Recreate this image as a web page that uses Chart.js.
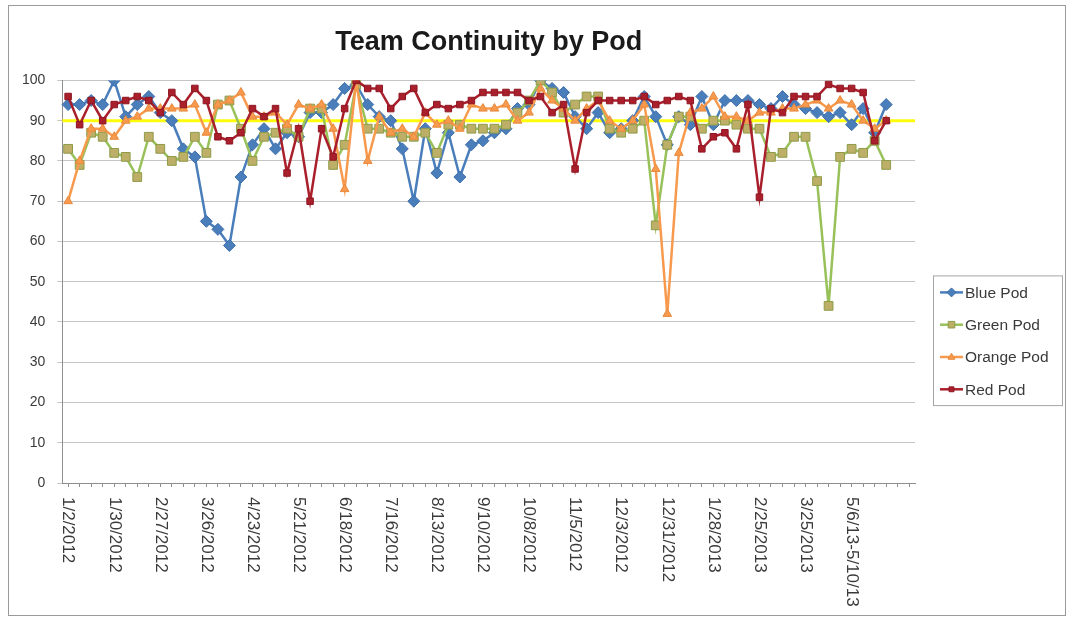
<!DOCTYPE html>
<html>
<head>
<meta charset="utf-8">
<title>Team Continuity by Pod</title>
<script src="https://cdn.jsdelivr.net/npm/chart.js@4.4.0/dist/chart.umd.min.js"></script>
<style>
  html, body { margin: 0; padding: 0; background: #fff; }
  #wrap { position: relative; width: 1073px; height: 619px; }
  #chart { position: absolute; left: 0; top: 0; }
  #frame {
    position: absolute; left: 8px; top: 5px; width: 1058px; height: 611px;
    border: 1px solid #9a9a9a; box-sizing: border-box; pointer-events: none;
  }
</style>
</head>
<body>
<div id="wrap">
  <canvas id="chart" width="1073" height="619"></canvas>
  <div id="frame"></div>
</div>
<script>
// Weekly categories; only every 4th label is printed on the axis.
const weeks = [
  '1/2/2012', '1/9/2012', '1/16/2012', '1/23/2012', '1/30/2012', '2/6/2012', '2/13/2012', '2/20/2012',
  '2/27/2012', '3/5/2012', '3/12/2012', '3/19/2012', '3/26/2012', '4/2/2012', '4/9/2012', '4/16/2012',
  '4/23/2012', '4/30/2012', '5/7/2012', '5/14/2012', '5/21/2012', '5/28/2012', '6/4/2012', '6/11/2012',
  '6/18/2012', '6/25/2012', '7/2/2012', '7/9/2012', '7/16/2012', '7/23/2012', '7/30/2012', '8/6/2012',
  '8/13/2012', '8/20/2012', '8/27/2012', '9/3/2012', '9/10/2012', '9/17/2012', '9/24/2012', '10/1/2012',
  '10/8/2012', '10/15/2012', '10/22/2012', '10/29/2012', '11/5/2012', '11/12/2012', '11/19/2012', '11/26/2012',
  '12/3/2012', '12/10/2012', '12/17/2012', '12/24/2012', '12/31/2012', '1/7/2013', '1/14/2013', '1/21/2013',
  '1/28/2013', '2/4/2013', '2/11/2013', '2/18/2013', '2/25/2013', '3/4/2013', '3/11/2013', '3/18/2013',
  '3/25/2013', '4/8/2013', '4/15/2013', '4/22/2013', '5/6/13-5/10/13', '5/13/13-5/17/13', '5/20/13-5/24/13', '5/28/13-5/31/13',
  '', ''
];
const LABEL_EVERY = 4;

const bluePod = [
  94, 94, 95, 94, 100, 91, 94, 96, 92, 90,
  83, 81, 65, 63, 59, 76, 84, 88, 83, 87,
  86, 92, 92, 94, 98, 99, 94, 91, 90, 83,
  70, 88, 77, 87, 76, 84, 85, 87, 88, 93,
  94, 100, 98, 97, 91, 88, 92, 87, 88, 90,
  96, 91, 84, 91, 89, 96, 89, 95, 95, 95,
  94, 93, 96, 94, 93, 92, 91, 92, 89, 93,
  87, 94
];
const greenPod = [
  83, 79, 87, 86, 82, 81, 76, 86, 83, 80,
  81, 86, 82, 94, 95, 88, 80, 86, 87, 88,
  86, 93, 93, 79, 84, 99, 88, 88, 87, 86,
  86, 87, 82, 89, 89, 88, 88, 88, 89, 92,
  95, 100, 97, 92, 94, 96, 96, 88, 87, 88,
  90, 64, 84, 91, 91, 88, 90, 90, 89, 88,
  88, 81, 82, 86, 86, 75, 44, 81, 83, 82,
  85, 79
];
const orangePod = [
  70, 80, 88, 88, 86, 90, 91, 93, 93, 93,
  93, 94, 87, 94, 95, 97, 91, 91, 92, 89,
  94, 93, 94, 88, 73, 100, 80, 91, 87, 88,
  86, 92, 89, 90, 88, 94, 93, 93, 94, 90,
  92, 98, 95, 93, 90, 93, 95, 90, 88, 90,
  94, 78, 42, 82, 92, 93, 96, 91, 91, 90,
  92, 92, 93, 93, 94, 95, 93, 95, 94, 90,
  88, 90
];
const redPod = [
  96, 89, 95, 90, 94, 95, 96, 95, 92, 97,
  94, 98, 95, 86, 85, 87, 93, 91, 93, 77,
  88, 70, 88, 81, 93, 100, 98, 98, 93, 96,
  98, 92, 94, 93, 94, 95, 97, 97, 97, 97,
  95, 96, 92, 94, 78, 92, 95, 95, 95, 95,
  96, 94, 95, 96, 95, 83, 86, 87, 83, 94,
  71, 93, 92, 96, 96, 96, 99, 98, 98, 97,
  85, 90
];
const TARGET = 90;

const FONT = "'Liberation Sans', Arial, sans-serif";
Chart.defaults.font.family = FONT;

// marker drawing shared by the custom legend
function marker(ctx, style, x, y, r, fill, stroke) {
  ctx.save();
  ctx.fillStyle = fill;
  ctx.strokeStyle = stroke;
  ctx.lineWidth = 1;
  ctx.beginPath();
  if (style === 'rectRot') {
    ctx.moveTo(x, y - r); ctx.lineTo(x + r, y); ctx.lineTo(x, y + r); ctx.lineTo(x - r, y);
  } else if (style === 'triangle') {
    ctx.moveTo(x, y - r); ctx.lineTo(x + r * 0.9, y + r * 0.6); ctx.lineTo(x - r * 0.9, y + r * 0.6);
  } else {
    const s = r * Math.SQRT1_2;
    ctx.rect(x - s, y - s, 2 * s, 2 * s);
  }
  ctx.closePath();
  ctx.fill();
  ctx.stroke();
  ctx.restore();
}

// yellow goal line across the plot, placed with the y scale
const targetLine = {
  id: 'targetLine',
  beforeDatasetsDraw(chart) {
    const {ctx, chartArea, scales} = chart;
    const y = scales.y.getPixelForValue(TARGET);
    ctx.save();
    ctx.strokeStyle = 'rgba(255,255,0,0.95)';
    ctx.lineWidth = 3;
    ctx.beginPath();
    ctx.moveTo(chartArea.left, y);
    ctx.lineTo(chartArea.right, y);
    ctx.stroke();
    ctx.restore();
  }
};

// Excel-style vertical date labels (reading top to bottom)
const dateLabels = {
  id: 'dateLabels',
  afterDraw(chart) {
    const {ctx, scales} = chart;
    const xs = scales.x;
    ctx.save();
    ctx.font = '17px ' + FONT;
    ctx.fillStyle = '#3a3a3a';
    ctx.textAlign = 'left';
    ctx.textBaseline = 'middle';
    weeks.forEach((w, i) => {
      if (i % LABEL_EVERY !== 0 || !w) return;
      const x = xs.getPixelForValue(i);
      ctx.save();
      ctx.translate(x, xs.bottom + 10);
      ctx.rotate(Math.PI / 2);
      ctx.fillText(w, 0, 0);
      ctx.restore();
    });
    ctx.restore();
  }
};

// boxed legend to the right of the plot
const podLegend = {
  id: 'podLegend',
  afterDraw(chart) {
    const {ctx, chartArea} = chart;
    const left = chartArea.right + 18;
    const top = chartArea.top + 195;
    const w = 129, rowH = 32.3;
    const sets = chart.data.datasets;
    ctx.save();
    ctx.strokeStyle = '#a6a6a6';
    ctx.lineWidth = 1;
    ctx.strokeRect(left + 0.5, top + 0.5, w, sets.length * rowH + 0.5);
    ctx.font = '15.5px ' + FONT;
    ctx.textBaseline = 'middle';
    sets.forEach((ds, k) => {
      const y = top + 17 + k * rowH;
      ctx.strokeStyle = ds.borderColor;
      ctx.lineWidth = 2.5;
      ctx.beginPath();
      ctx.moveTo(left + 7, y);
      ctx.lineTo(left + 30, y);
      ctx.stroke();
      marker(ctx, ds.pointStyle, left + 18.5, y, ds.pointRadius * 0.75,
             ds.pointBackgroundColor, ds.pointBorderColor);
      ctx.fillStyle = '#3a3a3a';
      ctx.fillText(ds.label, left + 32, y + 1);
    });
    ctx.restore();
  }
};

function series(label, data, color, style, radius, fill, stroke, order) {
  return {
    label: label,
    data: data,
    borderColor: color,
    backgroundColor: color,
    borderWidth: 2.5,
    pointStyle: style,
    pointRadius: radius,
    pointHoverRadius: radius,
    pointBackgroundColor: fill,
    pointBorderColor: stroke,
    pointBorderWidth: 1,
    tension: 0,
    order: order
  };
}

new Chart(document.getElementById('chart'), {
  type: 'line',
  data: {
    labels: weeks,
    datasets: [
      series('Blue Pod', bluePod, '#4A7EBB', 'rectRot', 6, '#4A7EBB', '#3F6FAA', 4),
      series('Green Pod', greenPod, '#98C15A', 'rect', 6.2, '#BDAE68', '#8E9C48', 3),
      series('Orange Pod', orangePod, '#F79A4D', 'triangle', 5, '#F79A4D', '#E8893C', 2),
      series('Red Pod', redPod, '#AA1F2C', 'rect', 4.6, '#AA1F2C', '#8E1622', 1)
    ]
  },
  options: {
    responsive: false,
    animation: false,
    events: [],
    layout: { padding: { left: 10, right: 158, top: 0, bottom: 132 } },
    plugins: {
      legend: { display: false },
      tooltip: { enabled: false },
      title: {
        display: true,
        text: 'Team Continuity by Pod',
        fullSize: false,
        color: '#1a1a1a',
        font: { family: FONT, size: 27, weight: 'bold' },
        padding: { top: 26, bottom: 22 }
      }
    },
    scales: {
      x: {
        type: 'category',
        offset: true,
        border: { color: '#8f8f8f' },
        grid: { drawOnChartArea: false, drawTicks: true, tickLength: 4, color: '#8f8f8f' },
        ticks: { display: false }
      },
      y: {
        min: 0,
        max: 100,
        border: { color: '#8f8f8f' },
        grid: { color: '#c4c4c4', tickLength: 5 },
        ticks: { stepSize: 10, padding: 12, color: '#3a3a3a', font: { size: 14 } }
      }
    }
  },
  plugins: [targetLine, dateLabels, podLegend]
});
</script>
</body>
</html>
